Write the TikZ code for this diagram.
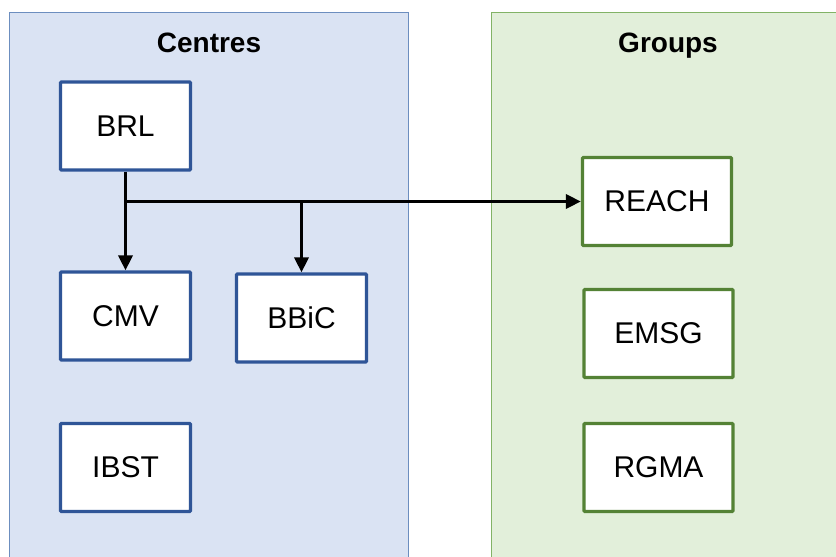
\documentclass[tikz,border=0pt]{standalone}
\usepackage{fontspec}
\setmainfont{Liberation Sans}
\usetikzlibrary{arrows.meta}
\definecolor{bluefill}{HTML}{DAE3F3}
\definecolor{blueedge}{HTML}{6C8EBF}
\definecolor{bluebox}{HTML}{2F5597}
\definecolor{greenfill}{HTML}{E2EFDA}
\definecolor{greenedge}{HTML}{82B366}
\definecolor{greenbox}{HTML}{548235}
\tikzset{
  panel/.style={line width=1pt},
  unitbox/.style={draw, fill=white, line width=3.2pt, rounded corners=1pt,
    minimum height=88pt, inner sep=0pt, font=\fontsize{30}{34}\selectfont},
  centrebox/.style={unitbox, draw=bluebox, minimum width=130pt},
  groupbox/.style={unitbox, draw=greenbox, minimum width=149pt},
  paneltitle/.style={anchor=base, font=\fontsize{28}{32}\selectfont\bfseries},
  link/.style={line width=3.4pt},
  linkarrow/.style={link, -{Triangle[length=15pt,width=14pt]}}
}
\begin{document}
\begin{tikzpicture}[x=1pt,y=-1pt]
\useasboundingbox (0,0) rectangle (836,557);
\begin{scope}
\clip (0,0) rectangle (836,557);
\draw[panel, draw=blueedge, fill=bluefill] (9.5,12.5) rectangle (408,580);
\draw[panel, draw=greenedge, fill=greenfill] (491.5,12.5) rectangle (860,580);
\end{scope}
\node[paneltitle] (centres) at (209,52) {Centres};
\node[paneltitle] (groups) at (668,52) {Groups};
% Centres
\node[centrebox] (brl) at (125.5,126) {BRL};
\node[centrebox] (cmv) at (125.5,316) {CMV};
\node[centrebox] (bbic) at (301.5,318) {BBiC};
\node[centrebox] (ibst) at (125.5,467.5) {IBST};
% Groups
\node[groupbox] (reach) at (657,201.5) {REACH};
\node[groupbox] (emsg) at (658.5,333.5) {EMSG};
\node[groupbox] (rgma) at (658.5,467.5) {RGMA};
% Connectors
\coordinate (split) at (brl.south |- reach.west);
\coordinate (tap) at (bbic.north |- reach.west);
\draw[link] (brl.south) -- (split);
\draw[linkarrow] (split) -- (cmv.north);
\draw[linkarrow] (split) -- (reach.west);
\draw[linkarrow] (tap) -- (bbic.north);
\end{tikzpicture}
\end{document}
